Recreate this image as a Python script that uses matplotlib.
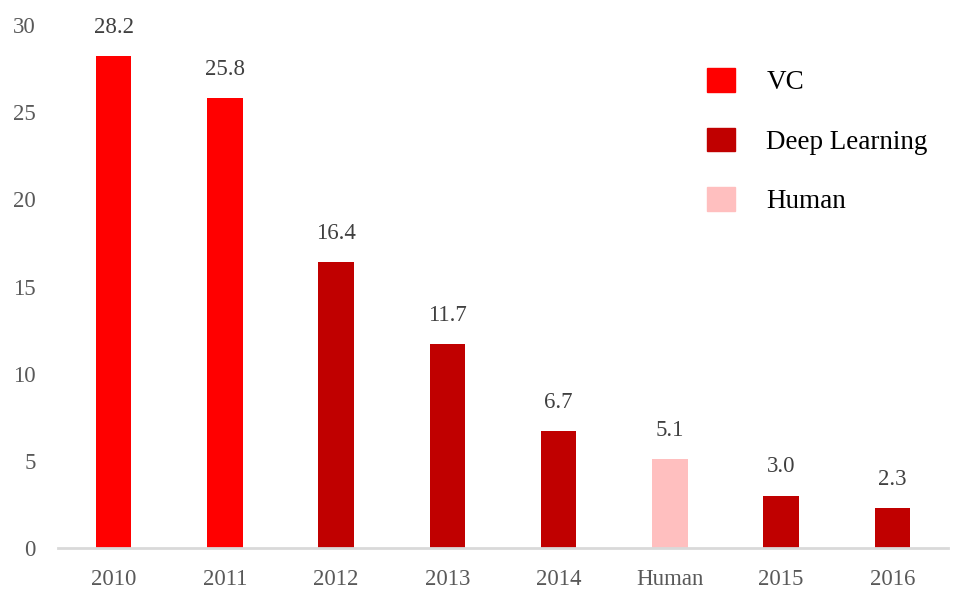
import matplotlib
matplotlib.use("Agg")
import matplotlib.pyplot as plt

categories = ["2010", "2011", "2012", "2013", "2014", "Human", "2015", "2016"]
values = [28.2, 25.8, 16.4, 11.7, 6.7, 5.1, 3.0, 2.3]
groups = ["VC", "VC", "Deep Learning", "Deep Learning", "Deep Learning", "Human", "Deep Learning", "Deep Learning"]
legend_labels = ["VC", "Deep Learning", "Human"]
colors = {"VC": "#FF0000", "Deep Learning": "#C00000", "Human": "#FFBFBF"}
yticks = [0, 5, 10, 15, 20, 25, 30]

plt.rcParams['font.family'] = ['Liberation Serif', 'DejaVu Serif']

fig = plt.figure(figsize=(9.55, 5.9), dpi=100)
ax = fig.add_axes([0.0607, 0.0712, 0.932, 0.8864])

x = range(len(categories))
ax.bar(x, values, width=0.32, color=[colors[g] for g in groups], zorder=2)
for xi, v in zip(x, values):
    ax.text(xi, v + 1.05, f"{v:.1f}", ha="center", va="bottom", fontsize=16.5, color="#404040")

ax.set_xlim(-0.5, 7.5)
ax.set_ylim(0, 30)
ax.set_yticks(yticks)
ax.set_yticklabels([str(t) for t in yticks], fontsize=16.5, color="#595959")
ax.set_xticks(list(x))
ax.set_xticklabels(categories, fontsize=16.5, color="#595959")
ax.tick_params(axis="both", length=0)
ax.tick_params(axis="y", pad=16)
ax.tick_params(axis="x", pad=15)
for s in ["top", "right", "left"]:
    ax.spines[s].set_visible(False)
ax.spines["bottom"].set_color("#d9d9d9")
ax.spines["bottom"].set_linewidth(2)

handles = [plt.Rectangle((0, 0), 1, 1, color=colors[l]) for l in legend_labels]
leg = ax.legend(handles, legend_labels, loc="upper left", bbox_to_anchor=(0.729, 0.917),
                frameon=False, fontsize=19.5, handlelength=1.05, handleheight=0.95,
                labelspacing=1.2, handletextpad=1.15, borderpad=0, borderaxespad=0)
for t in leg.get_texts():
    t.set_color("#000000")

fig.savefig("out.png", dpi=100)
